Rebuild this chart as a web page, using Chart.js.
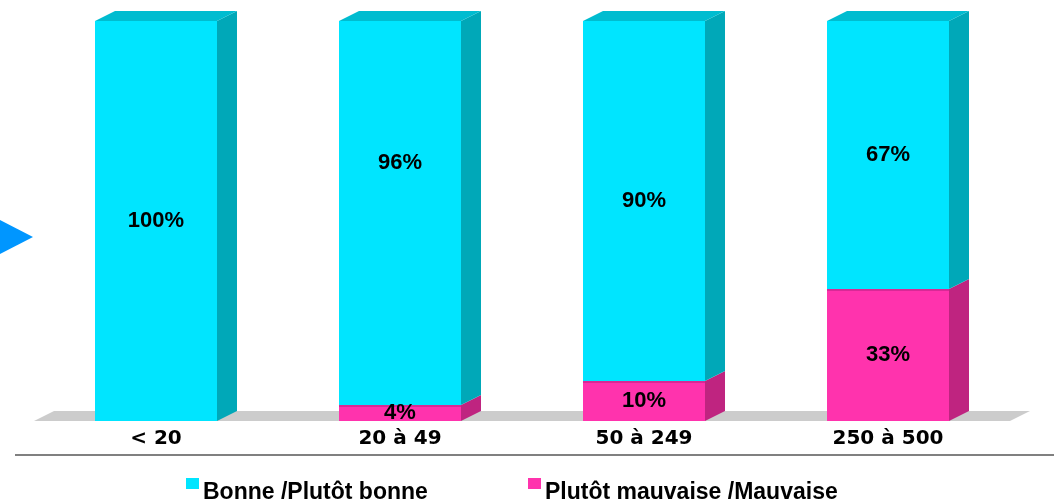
<!DOCTYPE html>
<html lang="fr">
<head>
  <meta charset="UTF-8" />
  <title>Bonne / Mauvaise par taille</title>
  <script src="https://cdn.jsdelivr.net/npm/chart.js"></script>
  <style>
    body { margin: 0; background: #fff; }
    .wrap { position: relative; width: 1054px; height: 503px; }
  </style>
</head>
<body>
  <div class="wrap"><canvas id="chart" width="1054" height="503"></canvas></div>

  <script>
    const categories = ['< 20', '20 à 49', '50 à 249', '250 à 500'];
    const bonne = [100, 96, 90, 67];
    const mauvaise = [0, 4, 10, 33];
    const seriesNames = ['Bonne /Plutôt bonne', 'Plutôt mauvaise /Mauvaise'];

    const cyan = { face: '#00E5FF', side: '#00A8B8', top: '#00BCD0' };
    const pink = { face: '#FF33AD', side: '#BF2480', top: '#D82A96' };
    const DX = 20, DY = 10;

    function poly(ctx, pts, color) {
      ctx.beginPath();
      ctx.moveTo(pts[0][0], pts[0][1]);
      for (let i = 1; i < pts.length; i++) ctx.lineTo(pts[i][0], pts[i][1]);
      ctx.closePath();
      ctx.fillStyle = color;
      ctx.fill();
    }

    // floor + 3D sides, value labels, legend, decorations
    const deco = {
      id: 'deco',
      beforeDatasetsDraw(chart) {
        const ctx = chart.ctx, a = chart.chartArea;
        ctx.save();
        poly(ctx, [[a.left, a.bottom], [a.right, a.bottom], [a.right + DX, a.bottom - DY], [a.left + DX, a.bottom - DY]], '#CCCCCC');
        ctx.restore();
      },
      afterDatasetsDraw(chart) {
        const ctx = chart.ctx;
        const n = chart.data.datasets.length;
        ctx.save();
        chart.data.datasets.forEach((ds, di) => {
          const meta = chart.getDatasetMeta(di);
          const col = ds.colors3d;
          meta.data.forEach((bar, i) => {
            if (!ds.data[i]) return;
            const p = bar.getProps(['x', 'y', 'base', 'width'], true);
            const l = p.x - p.width / 2, r = p.x + p.width / 2;
            const t = Math.min(p.y, p.base), b = Math.max(p.y, p.base);
            poly(ctx, [[r, t], [r + DX, t - DY], [r + DX, b - DY], [r, b]], col.side);
            if (di === n - 1) {
              poly(ctx, [[l, t], [l + DX, t - DY], [r + DX, t - DY], [r, t]], col.top);
            } else {
              ctx.fillStyle = col.top;
              ctx.fillRect(l, t, p.width, 2);
            }
          });
        });
        // value labels
        ctx.fillStyle = '#000';
        ctx.font = 'bold 22px "Liberation Sans", Arial, sans-serif';
        ctx.textAlign = 'center';
        ctx.textBaseline = 'middle';
        const shift = [[0, 0, 0, 0], [0, -50, 0, 0]];
        chart.data.datasets.forEach((ds, di) => {
          const meta = chart.getDatasetMeta(di);
          meta.data.forEach((bar, i) => {
            if (!ds.data[i]) return;
            const p = bar.getProps(['x', 'y', 'base'], true);
            ctx.fillText(ds.data[i] + '%', p.x, (p.y + p.base) / 2 + shift[di][i]);
          });
        });
        // separator line
        ctx.strokeStyle = '#808080';
        ctx.lineWidth = 2;
        ctx.beginPath();
        ctx.moveTo(15, 455);
        ctx.lineTo(1054, 455);
        ctx.stroke();
        // legend
        ctx.font = 'bold 23px "Liberation Sans", Arial, sans-serif';
        ctx.textAlign = 'left';
        ctx.textBaseline = 'alphabetic';
        const leg = [[186, seriesNames[0], cyan.face], [528, seriesNames[1], pink.face]];
        leg.forEach(([x, name, c]) => {
          ctx.fillStyle = c;
          ctx.fillRect(x, 478, 13, 11);
          ctx.fillStyle = '#000';
          ctx.fillText(name, x + 17, 499);
        });
        // blue arrow
        poly(ctx, [[0, 220], [33, 237], [0, 254]], '#0096FF');
        ctx.restore();
      }
    };

    new Chart(document.getElementById('chart'), {
      type: 'bar',
      data: {
        labels: categories,
        datasets: [
          { label: seriesNames[1], data: mauvaise, backgroundColor: pink.face, colors3d: pink },
          { label: seriesNames[0], data: bonne, backgroundColor: cyan.face, colors3d: cyan }
        ]
      },
      options: {
        responsive: false,
        animation: false,
        layout: { padding: { left: 34, right: 44, top: 21, bottom: 0 } },
        datasets: { bar: { barPercentage: 0.5, categoryPercentage: 1 } },
        plugins: { legend: { display: false }, tooltip: { enabled: false } },
        scales: {
          x: {
            stacked: true,
            grid: { display: false, drawTicks: false },
            border: { display: false },
            ticks: {
              color: '#000',
              padding: 6,
              font: { family: '"DejaVu Sans", sans-serif', size: 20, weight: 'bold' }
            },
            afterFit(scale) { scale.height = 82; }
          },
          y: { stacked: true, display: false, min: 0, max: 100 }
        }
      },
      plugins: [deco]
    });
  </script>
</body>
</html>
